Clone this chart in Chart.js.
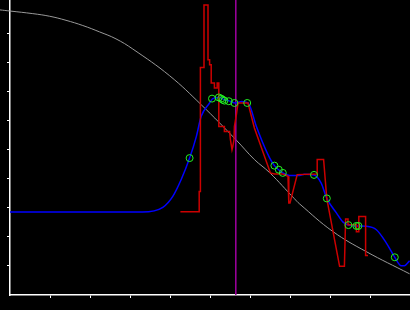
<!DOCTYPE html>
<html>
<head>
<meta charset="utf-8">
<script src="https://cdn.jsdelivr.net/npm/chart.js@4/dist/chart.umd.min.js"></script>
<style>
    body { margin: 0; background: #000; }
    #wrap { width: 410px; height: 310px; }
</style>
</head>
<body>
<div id="wrap"><canvas id="fitChart" width="410" height="310"></canvas></div>
<script>
// Reference curve (grey)
const greyX = [-0.26, 0, 0.57, 0.99, 1.40, 1.82, 2.24, 2.65, 3.07, 3.99, 4.78, 5.65, 6.11, 6.49, 7.11, 7.24, 8.07, 8.90, 9.99];
const greyY = [9.83, 9.79, 9.70, 9.61, 9.47, 9.29, 9.07, 8.83, 8.48, 7.56, 6.56, 5.35, 4.67, 4.22, 3.32, 3.14, 2.19, 1.50, 0.73];

// Smoothed fit (blue)
const blueX = [0, 3.31, 3.82, 4.07, 4.28, 4.49, 4.66, 4.78, 4.99, 5.07, 5.24, 5.36, 5.47, 5.63, 5.79, 5.95, 6.16, 6.34, 6.49, 6.61, 6.82, 6.99, 7.24, 7.36, 7.60, 7.78, 7.92, 8.16, 8.32, 8.46, 8.66, 8.91, 9.16, 9.41, 9.62, 9.78, 9.86, 9.99];
const blueY = [2.86, 2.86, 3.02, 3.40, 3.98, 4.72, 5.47, 6.16, 6.62, 6.77, 6.81, 6.73, 6.70, 6.62, 6.67, 6.62, 5.81, 5.18, 4.73, 4.46, 4.21, 4.12, 4.12, 4.16, 4.14, 3.86, 3.33, 2.83, 2.52, 2.41, 2.38, 2.37, 2.25, 1.79, 1.30, 1.01, 1.01, 1.18];

// Raw measurement (red)
const redX = [4.26, 4.73, 4.73, 4.76, 4.76, 4.85, 4.85, 4.95, 4.95, 4.99, 4.99, 5.03, 5.03, 5.11, 5.11, 5.18, 5.18, 5.22, 5.22, 5.36, 5.36, 5.49, 5.51, 5.55, 5.57, 5.60, 5.61, 5.66, 5.70, 5.95, 6.11, 6.51, 6.61, 6.82, 6.95, 6.97, 7.00, 7.18, 7.68, 7.68, 7.82, 7.84, 7.92, 8.24, 8.36, 8.39, 8.45, 8.45, 8.66, 8.66, 8.72, 8.72, 8.89, 8.89, 8.95];
const redY = [2.87, 2.87, 3.57, 3.57, 7.84, 7.84, 10.0, 10.0, 8.11, 8.11, 7.94, 7.94, 7.31, 7.31, 7.14, 7.14, 7.31, 7.31, 5.81, 5.81, 5.64, 5.64, 5.36, 5.01, 5.12, 5.36, 5.81, 6.22, 6.62, 6.62, 5.76, 4.21, 4.17, 4.17, 4.09, 3.17, 3.17, 4.15, 4.17, 4.67, 4.67, 4.67, 3.32, 0.99, 0.99, 2.62, 2.62, 2.42, 2.42, 2.18, 2.18, 2.71, 2.71, 1.36, 1.36];

// Detected points (green circles)
const markerX = [4.49, 5.05, 5.22, 5.28, 5.32, 5.36, 5.47, 5.61, 5.93, 6.61, 6.72, 6.82, 7.60, 7.92, 8.46, 8.66, 8.71, 9.62];
const markerY = [4.72, 6.77, 6.81, 6.77, 6.73, 6.70, 6.68, 6.62, 6.62, 4.46, 4.32, 4.21, 4.14, 3.33, 2.41, 2.38, 2.38, 1.30];

// Cursor position (magenta)
const cursorX = 5.645;

const tickValues = [1, 2, 3, 4, 5, 6, 7, 8, 9];
const xMax = 10;
const yMax = 10.17;

function toPoints(xs, ys) {
    return xs.map((x, i) => ({ x: x, y: ys[i] }));
}

function onlyTicks(scale) {
    scale.ticks = tickValues.map(v => ({ value: v }));
}

new Chart(document.getElementById('fitChart'), {
    type: 'scatter',
    data: {
        datasets: [
            {
                data: toPoints(markerX, markerY),
                showLine: false,
                pointRadius: 3.5,
                pointBorderWidth: 1,
                pointBorderColor: '#22ee22',
                pointBackgroundColor: 'rgba(0,0,0,0)'
            },
            {
                data: toPoints(redX, redY),
                showLine: true,
                borderColor: '#cc0000',
                borderWidth: 1.5,
                pointRadius: 0,
                tension: 0
            },
            {
                data: toPoints(blueX, blueY),
                showLine: true,
                borderColor: '#0000ff',
                borderWidth: 1.5,
                pointRadius: 0,
                cubicInterpolationMode: 'monotone'
            },
            {
                data: [{ x: cursorX, y: 0 }, { x: cursorX, y: yMax }],
                showLine: true,
                borderColor: '#a000a0',
                borderWidth: 1.5,
                pointRadius: 0
            },
            {
                data: toPoints(greyX, greyY),
                showLine: true,
                borderColor: '#999999',
                borderWidth: 1,
                pointRadius: 0,
                tension: 0.4,
                clip: false
            }
        ]
    },
    options: {
        responsive: false,
        animation: false,
        layout: { padding: 0, autoPadding: false },
        plugins: {
            legend: { display: false },
            tooltip: { enabled: false }
        },
        scales: {
            x: {
                type: 'linear',
                min: 0,
                max: xMax,
                afterBuildTicks: onlyTicks,
                afterFit: function (scale) { scale.height = 15; },
                ticks: { display: false },
                grid: { drawOnChartArea: false, drawTicks: true, tickLength: 3, color: '#ffffff' },
                border: { display: true, color: '#ffffff', width: 1.5 }
            },
            y: {
                type: 'linear',
                min: 0,
                max: yMax,
                afterBuildTicks: onlyTicks,
                afterFit: function (scale) { scale.width = 10; },
                ticks: { display: false },
                grid: { drawOnChartArea: false, drawTicks: true, tickLength: 3, color: '#ffffff' },
                border: { display: true, color: '#ffffff', width: 1.5 }
            }
        }
    }
});
</script>
</body>
</html>
